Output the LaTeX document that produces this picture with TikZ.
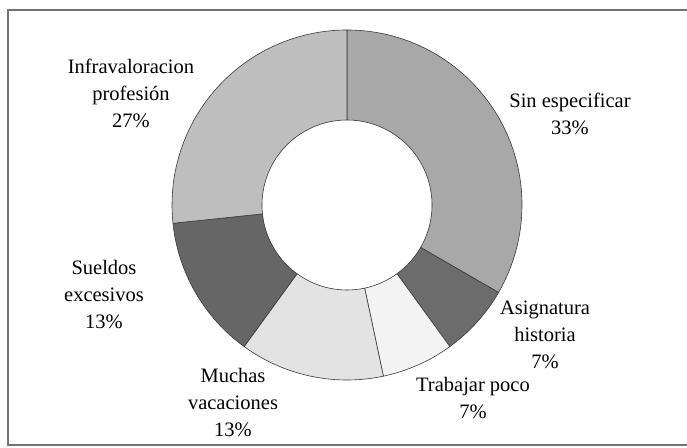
\documentclass[tikz,border=0pt]{standalone}
\usepackage{fontspec}
\setmainfont{Liberation Serif}
\definecolor{cSin}{HTML}{A8A8A8}
\definecolor{cAsig}{HTML}{6C6C6C}
\definecolor{cTrab}{HTML}{F3F3F3}
\definecolor{cMuch}{HTML}{E3E3E3}
\definecolor{cSuel}{HTML}{666666}
\definecolor{cInfra}{HTML}{BEBEBE}
\definecolor{edge}{HTML}{3A3A3A}
\begin{document}
\begin{tikzpicture}[x=1pt,y=1pt,
  slice/.style={draw=edge, line width=0.6pt, line join=round},
  lbl/.style={align=center, inner sep=0pt, font=\fontsize{20.5}{27}\selectfont, text=black},
  frame/.style={draw=black!55, line width=1.3pt}]
\useasboundingbox (0,0) rectangle (687,447);
\fill[white] (0,0) rectangle (687,447);
\draw[frame] (687,437) -- (8,437) -- (8,2) -- (687,2);
\def\Ro{175}\def\Ri{85}
\begin{scope}[shift={(347,242)}]
  \foreach \a/\b/\c in {90/-30/cSin, -30/-54/cAsig, -54/-78/cTrab, -78/-126/cMuch, -126/-174/cSuel, -174/-270/cInfra}{
    \filldraw[slice, fill=\c] (\a:\Ro) arc[start angle=\a, end angle=\b, radius=\Ro]
      -- (\b:\Ri) arc[start angle=\b, end angle=\a, radius=\Ri] -- cycle;
  }
\end{scope}
\node[lbl] (infra) at (131,354) {Infravaloracion\\profesión\\27\%};
\node[lbl] (sin) at (570,333) {Sin especificar\\33\%};
\node[lbl] (asig) at (545,112) {Asignatura\\historia\\7\%};
\node[lbl] (trab) at (473,49) {Trabajar poco\\7\%};
\node[lbl] (much) at (233,44) {Muchas\\vacaciones\\13\%};
\node[lbl] (suel) at (104,152) {Sueldos\\excesivos\\13\%};
\end{tikzpicture}
\end{document}
